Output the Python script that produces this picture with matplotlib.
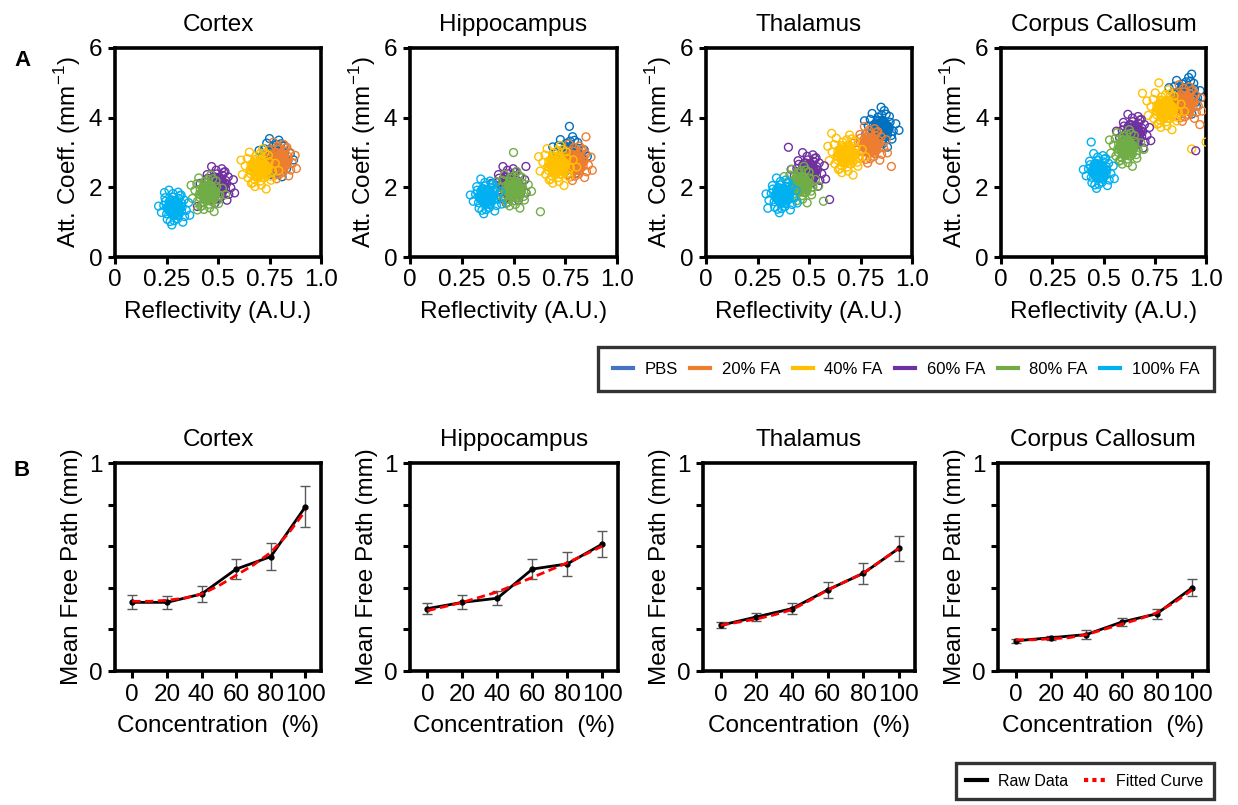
"""Reflectivity / attenuation scatter (A) and mean free path curves (B)."""

import matplotlib
matplotlib.use("Agg")
import matplotlib.pyplot as plt
from matplotlib.lines import Line2D
import numpy as np

plt.rcParams["font.family"] = ["Liberation Sans", "DejaVu Sans"]
plt.rcParams["mathtext.fontset"] = "custom"
plt.rcParams["mathtext.rm"] = "Liberation Sans"

W, H = 1238, 805
FONT = 17.5

REGIONS = ["Cortex", "Hippocampus", "Thalamus", "Corpus Callosum"]
GROUPS = ["PBS", "20% FA", "40% FA", "60% FA", "80% FA", "100% FA"]
GROUP_COLOURS = ["#0070C0", "#ED7D31", "#FFC000", "#7030A0", "#70AD47", "#00B0F0"]
LEGEND_COLOURS = ["#4472C4", "#ED7D31", "#FFC000", "#7030A0", "#70AD47", "#00B0F0"]

# --- panel A: cluster centres (reflectivity, att. coeff.) ---
CENTRE_X = {
    "Cortex":          [0.78, 0.80, 0.70, 0.50, 0.45, 0.29],
    "Hippocampus":     [0.77, 0.80, 0.71, 0.48, 0.50, 0.37],
    "Thalamus":        [0.85, 0.80, 0.68, 0.50, 0.46, 0.37],
    "Corpus Callosum": [0.90, 0.90, 0.80, 0.65, 0.61, 0.48],
}
CENTRE_Y = {
    "Cortex":          [2.85, 2.75, 2.55, 2.05, 1.85, 1.40],
    "Hippocampus":     [2.95, 2.70, 2.65, 2.05, 1.95, 1.72],
    "Thalamus":        [3.70, 3.20, 2.95, 2.45, 2.10, 1.75],
    "Corpus Callosum": [4.65, 4.40, 4.25, 3.55, 3.15, 2.45],
}
SPREAD_X = [0.031, 0.031, 0.034, 0.031, 0.031, 0.028]
SPREAD_Y = [0.21, 0.21, 0.23, 0.21, 0.21, 0.20]
CORE_SCALE = 0.45

# hand-typed cloud shape (in units of spread), shared by every cluster
CLOUD_DX = [0.0, 0.5, -0.4, 0.9, -0.8, 0.3, -0.2, 0.7, -0.6, 1.1,
            -1.2, 0.2, -0.5, 1.0, -0.7, 0.1, 1.4, -1.3, 0.6, -0.3,
            1.6, -1.7, 0.8, -0.9, 1.9, -2.0, 0.3, -0.1, 1.3, -1.1,
            2.3, -2.4, 0.5, -0.6, 1.7, -1.4, 2.8, -2.6, 1.0, -1.6,
            0.4, -0.8, 0.2, 1.2, -0.4, 0.7, -1.0, 0.0]
CLOUD_DY = [0.0, 0.6, 0.3, -0.4, -0.2, -0.9, 1.0, 1.2, -1.1, 0.1,
            0.7, 1.6, -1.5, 0.9, 1.4, -1.8, -0.8, 0.2, -0.5, -0.6,
            1.0, -1.2, -1.9, 1.8, 0.4, -0.3, 2.1, 0.5, -1.6, 1.9,
            -0.6, 0.8, -2.4, 2.3, 1.5, -2.0, 0.3, -1.0, 2.6, 1.2,
            0.2, -0.7, 0.5, -0.1, -0.3, 0.3, 0.0, -0.5]

# stray points away from the clouds: region -> (group index, x, y)
OUTLIERS = {
    "Cortex":          [(4, 0.40, 1.35), (5, 0.24, 1.85), (3, 0.40, 1.45), (0, 0.75, 3.40)],
    "Hippocampus":     [(4, 0.50, 3.00), (4, 0.63, 1.30), (0, 0.77, 3.75), (1, 0.85, 3.45),
                        (3, 0.56, 2.60)],
    "Thalamus":        [(3, 0.40, 3.15), (3, 0.60, 1.65), (4, 0.57, 1.60), (1, 0.90, 2.60),
                        (0, 0.85, 4.30), (5, 0.30, 1.40), (2, 0.61, 3.55)],
    "Corpus Callosum": [(3, 0.95, 3.05), (2, 0.93, 3.10), (2, 1.00, 3.30), (1, 0.97, 3.80),
                        (5, 0.44, 3.30), (0, 0.93, 5.25), (2, 0.77, 5.00), (2, 0.69, 4.70)],
}

# --- panel B: mean free path (mm) ---
CONCENTRATION = [0, 20, 40, 60, 80, 100]
MFP_MEAN = {
    "Cortex":          [0.33, 0.33, 0.37, 0.49, 0.55, 0.79],
    "Hippocampus":     [0.30, 0.33, 0.35, 0.49, 0.515, 0.61],
    "Thalamus":        [0.22, 0.26, 0.30, 0.39, 0.47, 0.59],
    "Corpus Callosum": [0.145, 0.16, 0.175, 0.235, 0.275, 0.40],
}
MFP_ERR = {
    "Cortex":          [0.034, 0.03, 0.04, 0.048, 0.063, 0.10],
    "Hippocampus":     [0.026, 0.034, 0.034, 0.047, 0.058, 0.063],
    "Thalamus":        [0.015, 0.02, 0.025, 0.038, 0.05, 0.06],
    "Corpus Callosum": [0.01, 0.01, 0.02, 0.02, 0.025, 0.04],
}
FIT_CONCENTRATION = [0, 10, 20, 30, 40, 50, 60, 70, 80, 90, 100]
MFP_FIT = {
    "Cortex":          [0.335, 0.335, 0.34, 0.35, 0.37, 0.41, 0.46, 0.51, 0.57, 0.66, 0.77],
    "Hippocampus":     [0.29, 0.31, 0.33, 0.355, 0.38, 0.415, 0.45, 0.485, 0.52, 0.56, 0.60],
    "Thalamus":        [0.22, 0.235, 0.25, 0.27, 0.295, 0.34, 0.39, 0.43, 0.47, 0.53, 0.59],
    "Corpus Callosum": [0.15, 0.15, 0.155, 0.16, 0.175, 0.20, 0.225, 0.25, 0.28, 0.33, 0.39],
}

# axes boxes in pixels: (left, right, top, bottom)
TOP_BOXES = [(115, 321, 48, 257), (410, 617, 48, 257), (706, 912, 48, 257), (1001, 1206, 48, 257)]
BOTTOM_BOXES = [(115, 321, 463, 671), (410, 618, 463, 671), (703, 915, 463, 671), (998, 1208, 463, 671)]


def add_axes_px(fig, box):
    left, right, top, bottom = box
    return fig.add_axes([left / W, 1 - bottom / H, (right - left) / W, (bottom - top) / H])


def style_axes(ax):
    for spine in ax.spines.values():
        spine.set_linewidth(2.6)
        spine.set_color("black")
    ax.tick_params(direction="out", length=5, width=2.2, labelsize=FONT, pad=4,
                   top=False, right=False)


def plot_scatter(ax, region):
    dx = np.array(CLOUD_DX)
    dy = np.array(CLOUD_DY)
    for g in range(len(GROUPS)):
        sign = 1 if g % 2 == 0 else -1
        xs, ys = [], []
        for scale in (1.0, CORE_SCALE):
            xs.extend(CENTRE_X[region][g] + sign * dx * SPREAD_X[g] * scale)
            ys.extend(CENTRE_Y[region][g] - sign * dy * SPREAD_Y[g] * scale)
        for group, x, y in OUTLIERS[region]:
            if group == g:
                xs.append(x)
                ys.append(y)
        ax.scatter(xs, ys, s=32, facecolors="none", edgecolors=GROUP_COLOURS[g],
                   linewidths=1.0, zorder=2 + g)
    ax.set_xlim(0, 1.0)
    ax.set_ylim(0, 6)
    ax.set_xticks([0, 0.25, 0.5, 0.75, 1.0])
    ax.set_xticklabels(["0", "0.25", "0.5", "0.75", "1.0"])
    ax.set_yticks([0, 2, 4, 6])
    ax.set_yticklabels(["0", "2", "4", "6"])
    ax.set_xlabel("Reflectivity (A.U.)", fontsize=FONT, labelpad=7)
    ax.set_ylabel("Att. Coeff. (mm$^{-1}$)", fontsize=FONT, labelpad=4)
    ax.set_title(region, fontsize=FONT, pad=12)
    style_axes(ax)


def plot_mfp(ax, region):
    ax.errorbar(CONCENTRATION, MFP_MEAN[region], yerr=MFP_ERR[region], fmt="none",
                ecolor="#595959", elinewidth=1.0, capsize=3.5, capthick=1.0, zorder=2)
    ax.plot(CONCENTRATION, MFP_MEAN[region], color="black", linewidth=2.0,
            marker="o", markersize=3.5, zorder=3)
    ax.plot(FIT_CONCENTRATION, MFP_FIT[region], color="#FF0000", linewidth=2.0,
            linestyle=(0, (3, 1.6)), zorder=4)
    ax.set_xlim(-10, 109)
    ax.set_ylim(0, 1)
    ax.set_xticks(CONCENTRATION)
    ax.set_xticklabels([str(c) for c in CONCENTRATION])
    ax.set_yticks([0, 0.2, 0.4, 0.6, 0.8, 1.0])
    ax.set_yticklabels(["0", "", "", "", "", "1"])
    ax.set_xlabel("Concentration  (%)", fontsize=FONT, labelpad=7)
    ax.set_ylabel("Mean Free Path (mm)", fontsize=FONT, labelpad=4)
    ax.set_title(region, fontsize=FONT, pad=12)
    style_axes(ax)


def main():
    fig = plt.figure(figsize=(W / 100, H / 100), dpi=100)

    for region, box in zip(REGIONS, TOP_BOXES):
        plot_scatter(add_axes_px(fig, box), region)
    for region, box in zip(REGIONS, BOTTOM_BOXES):
        plot_mfp(add_axes_px(fig, box), region)

    fig.text(22 / W, 1 - 60 / H, "A", fontsize=16, fontweight="bold", ha="center", va="center")
    fig.text(22 / W, 1 - 470 / H, "B", fontsize=16, fontweight="bold", ha="center", va="center")

    handles_a = [Line2D([], [], color=c, linewidth=3) for c in LEGEND_COLOURS]
    leg_a = fig.legend(handles_a, GROUPS, loc="center", ncol=6, mode="expand",
                       bbox_to_anchor=(590 / W, 1 - 391 / H, 632 / W, 44 / H),
                       fontsize=12, handlelength=1.2, handletextpad=0.7,
                       frameon=True, fancybox=False, borderpad=0.85)
    leg_a.get_frame().set_edgecolor("black")
    leg_a.get_frame().set_linewidth(2.4)

    handles_b = [Line2D([], [], color="black", linewidth=3),
                 Line2D([], [], color="#FF0000", linewidth=3, linestyle=(0, (1.0, 1.0)))]
    leg_b = fig.legend(handles_b, ["Raw Data", "Fitted Curve"], loc="center", ncol=2,
                       mode="expand",
                       bbox_to_anchor=(948 / W, 1 - 800 / H, 274 / W, 38 / H),
                       fontsize=11.5, handlelength=1.3, handletextpad=0.7,
                       frameon=True, fancybox=False, borderpad=0.65)
    leg_b.get_frame().set_edgecolor("black")
    leg_b.get_frame().set_linewidth(2.4)

    fig.savefig("out.png", dpi=100, facecolor="white")
    plt.close(fig)


if __name__ == "__main__":
    main()
